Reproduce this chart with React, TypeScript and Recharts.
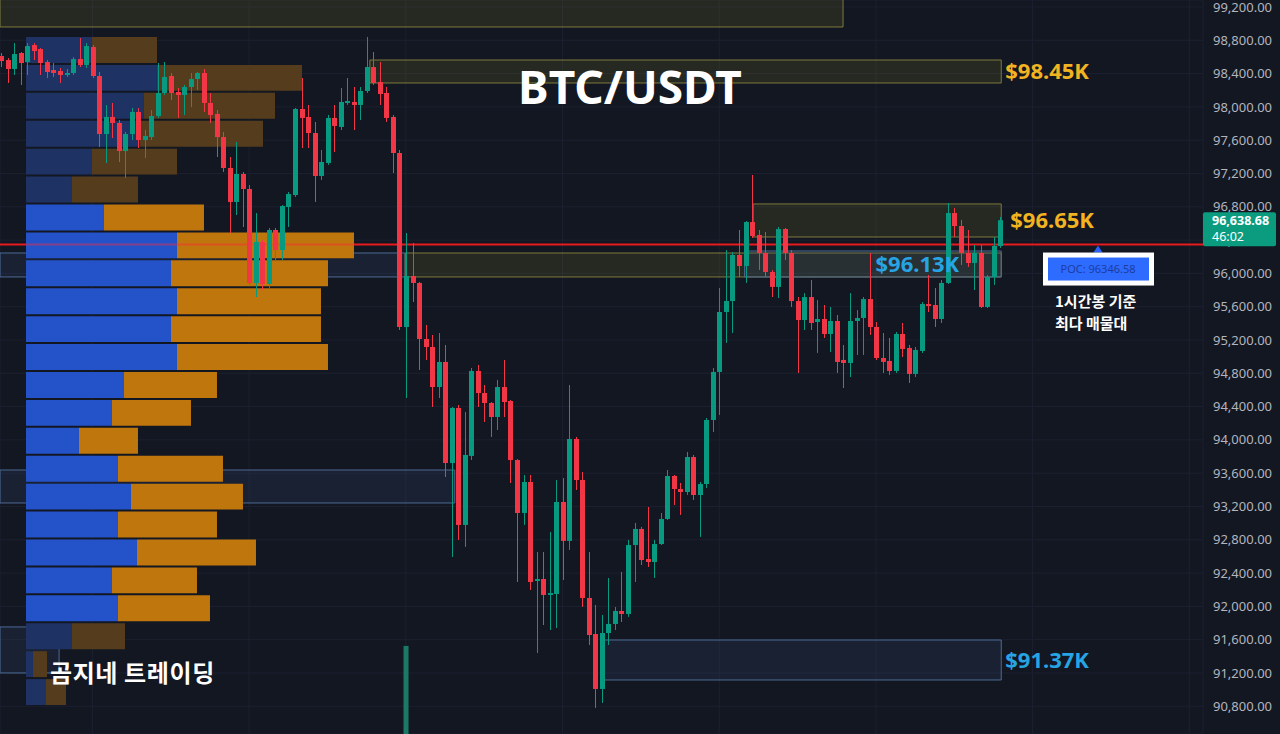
import React from "react";
import { Bar, CartesianGrid, ComposedChart, ReferenceArea, ReferenceLine, XAxis, YAxis } from "recharts";

const WIDTH = 1280;
const HEIGHT = 734;
const AXIS_WIDTH = 77;

const BG = "#131722";
const GRID = "#1c2030";
const UP = "#089981";
const DOWN = "#f23645";
const FONT = '"Noto Sans", "DejaVu Sans", sans-serif';
const KFONT = '"Noto Sans CJK KR", "Noto Sans", sans-serif';

// price / candle-index window shown
const PRICE_MIN = 90467;
const PRICE_MAX = 99284;
const X_MIN = -0.15;
const X_MAX = 184.1;

// 1h candles, [open, high, low, close]
const ohlc: [number, number, number, number][] = [
  [98611, 98647, 98479, 98551], [98563, 98587, 98287, 98455], [98455, 98767, 98383, 98635], [98647, 98659, 98263, 98527],
  [98539, 98767, 98383, 98731], [98743, 98767, 98563, 98671], [98695, 98707, 98383, 98527], [98539, 98563, 98347, 98419],
  [98443, 98527, 98359, 98407], [98431, 98467, 98287, 98383], [98383, 98455, 98359, 98407], [98407, 98599, 98383, 98575],
  [98575, 98828, 98479, 98503], [98503, 98767, 98467, 98731], [98719, 98743, 98347, 98371], [98371, 98419, 97518, 97674],
  [97674, 98023, 97326, 97879], [97879, 98047, 97626, 97807], [97807, 97843, 97338, 97470], [97470, 97698, 97146, 97674],
  [97674, 97987, 97602, 97939], [97939, 97987, 97506, 97602], [97602, 97722, 97386, 97650], [97638, 97963, 97602, 97891],
  [97891, 98527, 97867, 98167], [98167, 98539, 98143, 98359], [98371, 98407, 98083, 98167], [98179, 98227, 97867, 98143],
  [98143, 98263, 97903, 98239], [98239, 98407, 97999, 98335], [98335, 98419, 98203, 98407], [98407, 98455, 97939, 98047],
  [98047, 98167, 97807, 97903], [97915, 97963, 97398, 97638], [97638, 97698, 97218, 97266], [97266, 97398, 96485, 96858],
  [96858, 97578, 96701, 97194], [97194, 97218, 96557, 97014], [97014, 97062, 95861, 95885], [95885, 96725, 95716, 96377],
  [96377, 96401, 95800, 95873], [95873, 96545, 95825, 96521], [96521, 96545, 96161, 96281], [96281, 96821, 96161, 96809],
  [96797, 96978, 96557, 96953], [96941, 97987, 96918, 97975], [97975, 98347, 97506, 97867], [97879, 98023, 97506, 97686],
  [97686, 97819, 96858, 97170], [97170, 97482, 97122, 97338], [97326, 97903, 97302, 97867], [97867, 98023, 97458, 97771],
  [97759, 98227, 97722, 98059], [98047, 98347, 98023, 98071], [98059, 98239, 97722, 98023], [98023, 98239, 97843, 98191],
  [98191, 98840, 98167, 98479], [98479, 98659, 98263, 98287], [98299, 98539, 98023, 98155], [98167, 98239, 97819, 97867],
  [97879, 97903, 97206, 97446], [97446, 97482, 95320, 95356], [95356, 96485, 94503, 95969], [95969, 96365, 95656, 95885],
  [95885, 95897, 94840, 95212], [95212, 95380, 94960, 95116], [95116, 95260, 94395, 94635], [94635, 95284, 94503, 94936],
  [94936, 95140, 93554, 93722], [93722, 94395, 92593, 94383], [94383, 94419, 92798, 92978], [92978, 94335, 92714, 93819],
  [93807, 94864, 93758, 94828], [94828, 94900, 94395, 94563], [94563, 94659, 94215, 94443], [94443, 94455, 94035, 94275],
  [94275, 94720, 94119, 94635], [94635, 94960, 94275, 94455], [94467, 94479, 93482, 93758], [93758, 93770, 92293, 93122],
  [93122, 93578, 92978, 93494], [93494, 93578, 92197, 92293], [92305, 92653, 91440, 92329], [92329, 92653, 91776, 92137],
  [92137, 92894, 91716, 92161], [92149, 93518, 91740, 93254], [93254, 93542, 92317, 92786], [92786, 94659, 92678, 94011],
  [94011, 94035, 93398, 93518], [93518, 93614, 91993, 92101], [92101, 92653, 91536, 91656], [91668, 92017, 90780, 91008],
  [91008, 91897, 90840, 91680], [91680, 92341, 91536, 91789], [91789, 91993, 91716, 91945], [91945, 92413, 91812, 91909],
  [91909, 92798, 91873, 92737], [92737, 93002, 92293, 92930], [92930, 92954, 92497, 92557], [92569, 93194, 92473, 92533],
  [92533, 92798, 92341, 92749], [92749, 93122, 92737, 93050], [93050, 93638, 93038, 93566], [93566, 93578, 93218, 93410],
  [93410, 93482, 93098, 93374], [93374, 93855, 93338, 93794], [93794, 93819, 93278, 93338], [93338, 93494, 92834, 93470],
  [93470, 94263, 93422, 94239], [94239, 94864, 94095, 94816], [94816, 95825, 94299, 95536], [95536, 96281, 95164, 95668],
  [95668, 96257, 95284, 96221], [96221, 96521, 95957, 96089], [96089, 96629, 95885, 96617], [96617, 97182, 96425, 96449],
  [96461, 96521, 96041, 96245], [96245, 96497, 95957, 96017], [96017, 96041, 95716, 95837], [95837, 96557, 95704, 96533],
  [96533, 96545, 96161, 96245], [96245, 96281, 95596, 95668], [95668, 95716, 94804, 95440], [95440, 95764, 95320, 95716],
  [95716, 95921, 95320, 95404], [95416, 95680, 95044, 95452], [95452, 95620, 95224, 95272], [95272, 95596, 95056, 95428],
  [95428, 95500, 94804, 94936], [94960, 95140, 94623, 94924], [94924, 95764, 94755, 95428], [95428, 95560, 95020, 95464],
  [95464, 95716, 95020, 95692], [95692, 96245, 95260, 95356], [95356, 95416, 94960, 94984], [94984, 95284, 94804, 94936],
  [94948, 95224, 94780, 94828], [94828, 95296, 94804, 95272], [95272, 95404, 94996, 95092], [95104, 95140, 94684, 94792],
  [94792, 95116, 94755, 95080], [95068, 95656, 95044, 95632], [95632, 95981, 95536, 95608], [95620, 95825, 95356, 95452],
  [95452, 95921, 95404, 95885], [95885, 96845, 95873, 96725], [96725, 96785, 96437, 96569], [96569, 96641, 96101, 96245],
  [96245, 96521, 96077, 96125], [96125, 96341, 95800, 96245], [96245, 96341, 95584, 95596], [95596, 95981, 95584, 95957],
  [95957, 96437, 95861, 96329], [96329, 96677, 96305, 96638.68],
];

// the one volume bar that pokes up from the pane below: [candle index, volume %]
const volumeSpikes: [number, number][] = [[62, 12]];

const priceTicks = [
  99200, 98800, 98400, 98000, 97600, 97200, 96800, 96400, 96000, 95600, 95200,
  94800, 94400, 94000, 93600, 93200, 92800, 92400, 92000, 91600, 91200, 90800,
];
const dayTicks = [14, 38, 62, 86, 110, 134, 158, 182];

const pocPrice = 96346.58;
const lastPrice = 96638.68;
const countdown = "46:02";

// volume profile, top row first
const profileHigh = 98840;
const profileLow = 90791;
const profileBuy = [66, 131, 118, 114, 66, 46, 78, 151, 145, 151, 145, 151, 98, 86, 53, 92, 105, 92, 111, 86, 92, 46, 7, 20];
const profileSell = [65, 145, 131, 123, 85, 66, 100, 177, 157, 144, 150, 151, 93, 79, 59, 105, 112, 99, 119, 85, 92, 53, 14, 20];
const valueAreaFirst = 6;
const valueAreaLast = 20;
const PROFILE_LEFT = 3.83;
const PROFILE_UNIT = 1 / 6.529;
const ROW_GAP = 24;

type Zone = { x1: number; x2: number; y1: number; y2: number; kind: "olive" | "blue"; label?: string };
const zones: Zone[] = [
  { x1: X_MIN, x2: 128.97, y1: 98960, y2: 99450, kind: "olive" },
  { x1: 56.5, x2: 153.2, y1: 98287, y2: 98563, kind: "olive", label: "$98.45K" },
  { x1: 115.2, x2: 153.2, y1: 96437, y2: 96834, kind: "olive", label: "$96.65K" },
  { x1: X_MIN, x2: 61.9, y1: 95957, y2: 96245, kind: "blue" },
  { x1: 61.9, x2: 153.2, y1: 95957, y2: 96245, kind: "olive" },
  { x1: 113.9, x2: 153.2, y1: 95957, y2: 96269, kind: "blue", label: "$96.13K" },
  { x1: X_MIN, x2: 69.5, y1: 93242, y2: 93638, kind: "blue" },
  { x1: X_MIN, x2: 8.9, y1: 91200, y2: 91753, kind: "blue" },
  { x1: 92.2, x2: 153.2, y1: 91116, y2: 91596, kind: "blue", label: "$91.37K" },
];

const volumeAt = new Map(volumeSpikes);
const candleData = ohlc.map(([open, high, low, close], i) => ({
  x: i,
  open,
  high,
  low,
  close,
  range: [low, high],
  vol: volumeAt.get(i) ?? null,
}));

const binSize = (profileHigh - profileLow) / profileBuy.length;
const profileRows = profileBuy.map((buy, i) => {
  const top = profileHigh - i * binSize;
  return {
    top,
    bottom: top - binSize + ROW_GAP,
    buy,
    sell: profileSell[i],
    bright: i >= valueAreaFirst && i <= valueAreaLast,
  };
});
const pocRowEnd = Math.max(...profileRows.map((r) => PROFILE_LEFT + (r.buy + r.sell) * PROFILE_UNIT));

const fmt = (v: number) => v.toLocaleString("en-US", { minimumFractionDigits: 2, maximumFractionDigits: 2 });

const zoneStyle = {
  olive: { stroke: "#7d7a3c", fill: "rgba(150,150,40,0.15)" },
  blue: { stroke: "#4d6a94", fill: "rgba(60,90,140,0.16)" },
};

const labelPlacement: Record<string, { inside: boolean; gap: number; color: string }> = {
  "$98.45K": { inside: false, gap: 4, color: "#f2b321" },
  "$96.65K": { inside: false, gap: 9, color: "#f2b321" },
  "$96.13K": { inside: true, gap: 42, color: "#27a4e3" },
  "$91.37K": { inside: false, gap: 4, color: "#27a4e3" },
};

const renderCandle = (props: any) => {
  const { x, y, width, height, payload } = props;
  if (!payload || height == null || y == null) return <g />;
  const { open, high, low, close } = payload;
  const top = Math.min(y, y + height);
  const bot = Math.max(y, y + height);
  const span = high - low || 1;
  const py = (p: number) => top + ((high - p) / span) * (bot - top);
  const cx = Math.round(x + width / 2) + 0.5;
  const color = close >= open ? UP : DOWN;
  const bTop = py(Math.max(open, close));
  const bBot = py(Math.min(open, close));
  return (
    <g>
      <line x1={cx} x2={cx} y1={top} y2={bot} stroke={color} strokeWidth={1} />
      <rect x={cx - 2.5} y={bTop} width={5} height={Math.max(1, bBot - bTop)} fill={color} />
    </g>
  );
};

const zoneLabel = (text: string) => (props: any) => {
  const vb = props.viewBox;
  const place = labelPlacement[text];
  if (!vb || !place) return null;
  const x = place.inside ? vb.x + vb.width - place.gap : vb.x + vb.width + place.gap;
  return (
    <text
      x={x}
      y={vb.y + vb.height / 2}
      dy="0.36em"
      textAnchor={place.inside ? "end" : "start"}
      fill={place.color}
      fontSize={22}
      fontWeight={700}
      fontFamily={FONT}
    >
      {text}
    </text>
  );
};

const PocLabel = (props: any) => {
  const vb = props.viewBox;
  if (!vb) return null;
  const cx = vb.x + vb.width - 105;
  const y = vb.y;
  return (
    <g>
      <path d={`M${cx} ${y + 1} L${cx + 4.5} ${y + 8} L${cx - 4.5} ${y + 8} Z`} fill="#2962ff" />
      <rect x={cx - 55} y={y + 8} width={111} height={33} fill="#ffffff" />
      <rect x={cx - 50} y={y + 13} width={101} height={23} fill="#2e6bff" />
      <text x={cx} y={y + 28.5} textAnchor="middle" fill="#1d3c9e" fontSize={11} fontFamily={FONT}>
        POC: {pocPrice}
      </text>
      <text x={cx - 43} y={y + 62} fill="#ffffff" fontSize={15} fontWeight={700} fontFamily={KFONT}>
        1시간봉 기준
      </text>
      <text x={cx - 43} y={y + 84} fill="#ffffff" fontSize={15} fontWeight={700} fontFamily={KFONT}>
        최다 매물대
      </text>
    </g>
  );
};

const PriceTag = (props: any) => {
  const vb = props.viewBox;
  if (!vb) return null;
  const x = vb.x + vb.width;
  const y = vb.y;
  return (
    <g>
      <rect x={x} y={y - 8} width={73} height={34} rx={2} fill="#0b9c80" />
      <text x={x + 9} y={y + 5} fill="#ffffff" fontSize={12.5} fontWeight={700} fontFamily={FONT}>
        {fmt(lastPrice)}
      </text>
      <text x={x + 9} y={y + 21} fill="#ffffff" fontSize={12.5} fontFamily={FONT}>
        {countdown}
      </text>
    </g>
  );
};

export default function App() {
  return (
    <div style={{ position: "absolute", left: 0, top: 0, width: WIDTH, height: HEIGHT, background: BG, overflow: "hidden" }}>
      <ComposedChart width={WIDTH} height={HEIGHT} data={candleData} margin={{ top: 0, right: 0, bottom: 0, left: 0 }}>
        <CartesianGrid stroke={GRID} strokeWidth={1} />
        <XAxis dataKey="x" type="number" domain={[X_MIN, X_MAX]} ticks={dayTicks} allowDataOverflow hide />
        <XAxis xAxisId="vol" dataKey="x" type="number" domain={[X_MIN, X_MAX]} allowDataOverflow hide />
        <YAxis
          orientation="right"
          width={AXIS_WIDTH}
          type="number"
          domain={[PRICE_MIN, PRICE_MAX]}
          ticks={priceTicks}
          interval={0}
          allowDataOverflow
          axisLine={false}
          tickLine={false}
          tickSize={0}
          tickMargin={10}
          tickFormatter={fmt}
          tick={{ fill: "#b2b5be", fontSize: 13, fontFamily: FONT }}
        />
        <YAxis yAxisId="vol" type="number" domain={[0, 100]} allowDataOverflow hide />

        {zones.map((z, i) => (
          <ReferenceArea
            key={`zone-${i}`}
            x1={z.x1}
            x2={z.x2}
            y1={z.y1}
            y2={z.y2}
            ifOverflow="hidden"
            stroke={zoneStyle[z.kind].stroke}
            strokeWidth={1}
            fill={zoneStyle[z.kind].fill}
            fillOpacity={1}
            zIndex={100}
          />
        ))}

        <ReferenceLine y={pocPrice} stroke="#e81a1f" strokeWidth={2} zIndex={105} label={PocLabel} />

        {profileRows.map((r, i) => {
          const mid = PROFILE_LEFT + r.buy * PROFILE_UNIT;
          const end = mid + r.sell * PROFILE_UNIT;
          return (
            <React.Fragment key={`row-${i}`}>
              <ReferenceArea
                x1={PROFILE_LEFT}
                x2={mid}
                y1={r.bottom}
                y2={r.top}
                ifOverflow="visible"
                stroke="none"
                fill={r.bright ? "#2352c9" : "#1f3264"}
                fillOpacity={1}
                zIndex={110}
              />
              <ReferenceArea
                x1={mid}
                x2={end}
                y1={r.bottom}
                y2={r.top}
                ifOverflow="visible"
                stroke="none"
                fill={r.bright ? "#be760d" : "#553c1d"}
                fillOpacity={1}
                zIndex={110}
              />
            </React.Fragment>
          );
        })}

        {/* POC line seen through the profile */}
        <ReferenceLine
          segment={[
            { x: PROFILE_LEFT, y: pocPrice },
            { x: pocRowEnd, y: pocPrice },
          ]}
          stroke="#ff2a3a"
          strokeOpacity={0.45}
          strokeWidth={2}
          zIndex={120}
        />

        <Bar xAxisId="vol" yAxisId="vol" dataKey="vol" barSize={5} fill="#1a7a66" isAnimationActive={false} />
        <Bar dataKey="range" barSize={5} shape={renderCandle} isAnimationActive={false} />

        {zones.map((z, i) =>
          z.label ? (
            <ReferenceArea
              key={`zl-${i}`}
              x1={z.x1}
              x2={z.x2}
              y1={z.y1}
              y2={z.y2}
              ifOverflow="visible"
              stroke="none"
              fill="none"
              zIndex={400}
              label={zoneLabel(z.label)}
            />
          ) : null
        )}

        <ReferenceLine y={lastPrice} stroke="none" strokeOpacity={0} zIndex={2000} label={PriceTag} />
      </ComposedChart>

      <svg width={WIDTH} height={HEIGHT} style={{ position: "absolute", left: 0, top: 0, pointerEvents: "none" }}>
        <text x={630} y={104} textAnchor="middle" fill="#ffffff" fontSize={46} fontWeight={700} fontFamily={FONT}>
          BTC/USDT
        </text>
        <text x={50} y={682} fill="#ffffff" fontSize={24} fontWeight={700} letterSpacing={0.6} fontFamily={KFONT}>
          곰지네 트레이딩
        </text>
      </svg>
    </div>
  );
}
